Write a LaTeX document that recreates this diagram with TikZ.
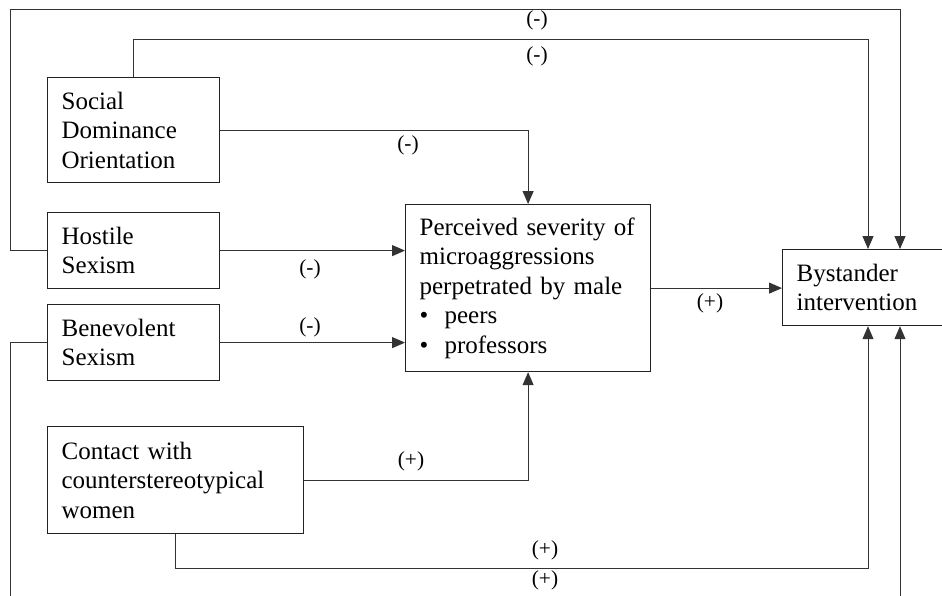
\documentclass[tikz,border=0pt]{standalone}
\usepackage{fontspec}
\setmainfont{Liberation Serif}
\usetikzlibrary{positioning, arrows.meta}
\definecolor{clrborder}{HTML}{222222}
\definecolor{clrline}{HTML}{333333}

\begin{document}
\begin{tikzpicture}[
    x=0.5pt, y=-0.5pt,
    >={Triangle[length=6.5pt, width=5.5pt]},
    every node/.style={font=\fontsize{12.5}{14.8}\selectfont, text=black},
    block/.style={draw=clrborder, line width=0.6pt, anchor=north west, align=left,
                  inner xsep=7pt, inner ysep=0pt},
    arrow/.style={->, color=clrline, line width=0.5pt},
    sign/.style={font=\fontsize{10.7}{12}\selectfont, inner sep=1pt},
]
\useasboundingbox (0,0) rectangle (942,595);
\fill[white] (0,0) rectangle (942,595);
\clip (0,0) rectangle (942,595);
% predictors
\node[block, text width=72pt, minimum height=52.5pt] (sdo) at (47,77) {Social\\Dominance\\Orientation};
\node[block, text width=72pt, minimum height=38pt] (hostile) at (47,212) {Hostile\\Sexism};
\node[block, text width=72pt, minimum height=38pt] (benevolent) at (47,304) {Benevolent\\Sexism};
\node[block, text width=114pt, minimum height=53.5pt] (contact) at (47,426) {Contact with\\counterstereotypical\\women};
% mediator and outcome
\node[block, text width=108.5pt, minimum height=83.5pt] (severity) at (405,204) {Perceived severity of\\microaggressions\\perpetrated by male\\\makebox[12.5pt][l]{\textbullet}peers\\\makebox[12.5pt][l]{\textbullet}professors};
\node[block, text width=96pt, minimum height=38pt] (bystander) at (782,249) {Bystander\\intervention};
% bend points
\coordinate (top_l) at (10,9);
\coordinate (top_r) at (900,9);
\coordinate (mid_r) at (868,39);
\coordinate (low_r) at (868,568);
\coordinate (bot_l) at (10,606);
\coordinate (bot_r) at (900,606);
% paths
\draw[arrow] (hostile.west) -| (top_l) -- (top_r) -- (top_r |- bystander.north);
\draw[arrow] (sdo.north) |- (mid_r) -- (mid_r |- bystander.north);
\draw[arrow] (sdo.east) -| (severity.north);
\draw[arrow] (hostile.east) -- (hostile.east -| severity.west);
\draw[arrow] (benevolent.east) -- (benevolent.east -| severity.west);
\draw[arrow] (contact.east) -| (severity.south);
\draw[arrow] (severity.east) -- (severity.east -| bystander.west);
\draw[arrow] (contact.south) |- (low_r) -- (low_r |- bystander.south);
\draw[arrow] (benevolent.west) -| (bot_l) -- (bot_r) -- (bot_r |- bystander.south);
% signs
\node[sign] (s_top) at (537,20) {(-)};
\node[sign] (s_mid) at (537,56) {(-)};
\node[sign] (s_sdo) at (408,145) {(-)};
\node[sign] (s_hos) at (310,269) {(-)};
\node[sign] (s_ben) at (310,327) {(-)};
\node[sign] (s_sev) at (710,303) {(+)};
\node[sign] (s_con) at (411,461) {(+)};
\node[sign] (s_low) at (545,550) {(+)};
\node[sign] (s_bot) at (545,580) {(+)};
\end{tikzpicture}
\end{document}
